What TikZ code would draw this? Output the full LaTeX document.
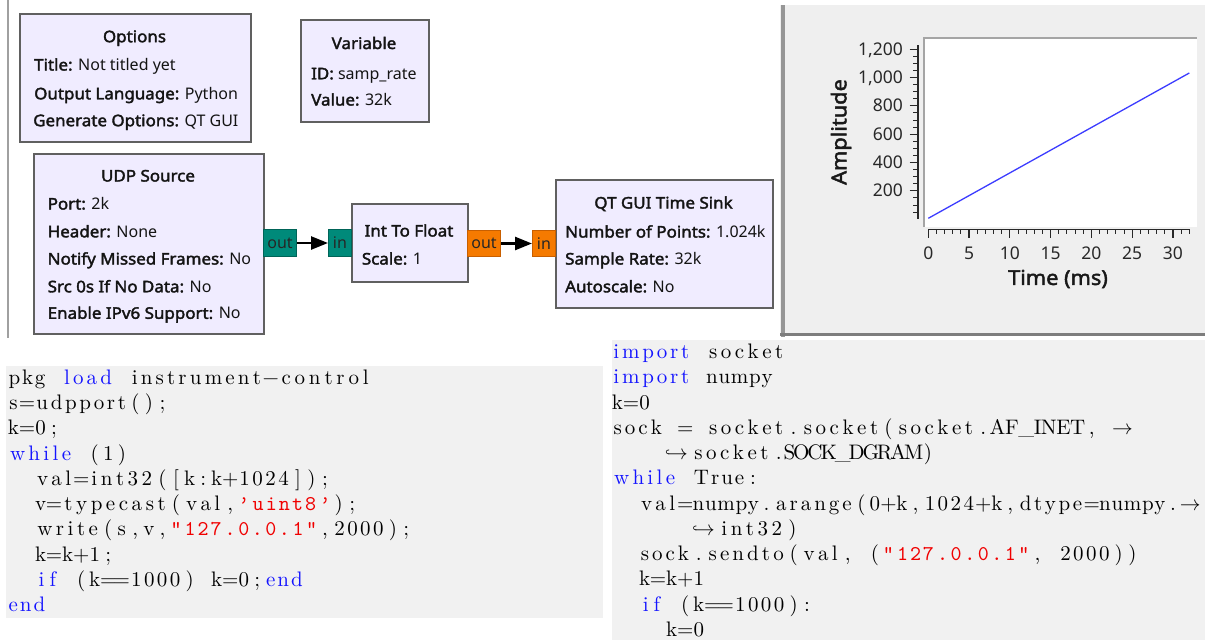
\documentclass[tikz,border=0pt]{standalone}
\usepackage{fontspec}
\usetikzlibrary{arrows.meta}
\newfontfamily\grcfont{Noto Sans}[BoldFont={Noto Sans}, BoldFeatures={FakeBold=2.2, FakeStretch=1.06}]
\newfontfamily\codefont{lmroman10-regular.otf}
\newfontfamily\codett{lmmono10-regular.otf}
\definecolor{blockfill}{RGB}{240,236,255}
\definecolor{blockdraw}{RGB}{96,96,96}
\definecolor{portteal}{RGB}{0,138,122}
\definecolor{porttealdk}{RGB}{0,100,88}
\definecolor{portorange}{RGB}{245,122,0}
\definecolor{portorangedk}{RGB}{200,95,0}
\definecolor{codebg}{RGB}{241,241,241}
\definecolor{kwblue}{RGB}{20,20,255}
\definecolor{strred}{RGB}{240,0,0}
\definecolor{panelbg}{RGB}{239,239,239}
\definecolor{plotblue}{RGB}{60,60,255}
\definecolor{axisgray}{RGB}{40,40,40}
\definecolor{canvasline}{RGB}{160,160,160}

\ExplSyntaxOn
\dim_new:N \l_cw_dim
\dim_set:Nn \l_cw_dim {13.55pt}
\tl_new:N \l_cw_tok_tl
\int_new:N \l_cw_n_int
\str_const:Nn \c_cw_letters_str {abcdefghijklmnopqrstuvwxyzABCDEFGHIJKLMNOPQRSTUVWXYZ0123456789_}
\cs_new_protected:Npn \cw_flush:
  {
    \int_compare:nNnT { \l_cw_n_int } > { 0 }
      {
        \hbox_to_wd:nn { \int_use:N \l_cw_n_int \l_cw_dim } { \hss \l_cw_tok_tl }
        \tl_clear:N \l_cw_tok_tl
        \int_zero:N \l_cw_n_int
      }
  }
\cs_new_protected:Npn \cw_line:n #1
  {
    \tl_clear:N \l_cw_tok_tl
    \int_zero:N \l_cw_n_int
    \str_map_inline:nn { #1 }
      {
        \str_if_in:NnTF \c_cw_letters_str { ##1 }
          {
            \tl_put_right:Nn \l_cw_tok_tl { ##1 \hss }
            \int_incr:N \l_cw_n_int
          }
          {
            \cw_flush:
            \hbox_to_wd:nn { \l_cw_dim } { \hss ##1 \hss }
          }
      }
    \cw_flush:
  }
\NewDocumentCommand \cP { m } { \cw_line:n { #1 } }
\NewDocumentCommand \cK { m } { \textcolor{kwblue}{ \cw_line:n { #1 } } }
\NewDocumentCommand \cS { m } { \textcolor{strred}{ \codett \cw_line:n { #1 } } }
\NewDocumentCommand \cI { m } { \hbox_to_wd:nn { #1 \l_cw_dim } { } }
\ExplSyntaxOff

\begin{document}
\begin{tikzpicture}[x=1pt,y=-1pt,
  block/.style={draw=blockdraw, line width=2pt, fill=blockfill, anchor=north west, inner sep=0pt},
  grctxt/.style={anchor=base west, inner sep=0pt, text=black!92, font=\grcfont\fontsize{16}{19}\selectfont},
  grcttl/.style={anchor=base, inner sep=0pt, text=black!92, font=\grcfont\bfseries\fontsize{16}{19}\selectfont},
  tealport/.style={draw=porttealdk, fill=portteal, line width=1pt, anchor=north west, inner sep=0pt, minimum height=27pt, text=black!85, font=\grcfont\fontsize{16}{19}\selectfont},
  orangeport/.style={draw=portorangedk, fill=portorange, line width=1pt, anchor=north west, inner sep=0pt, minimum height=26pt, text=black!85, font=\grcfont\fontsize{16}{19}\selectfont},
  conn/.style={line width=2.5pt, -{Triangle[length=17pt,width=13pt]}},
  ticklab/.style={inner sep=0pt, text=axisgray, font=\grcfont\fontsize{17.5}{20}\selectfont},
  axttl/.style={inner sep=0pt, text=black!90, font=\grcfont\bfseries\fontsize{20.5}{24}\selectfont},
  codeline/.style={anchor=base west, inner sep=0pt, font=\codefont\fontsize{21}{25}\selectfont}
]
\useasboundingbox (0,0) rectangle (1205,640);

% ---------------- GRC canvas ----------------
\draw[canvasline, line width=1.5pt] (8,0) -- (8,338);

\node[block, minimum width=231pt, minimum height=128pt] (options) at (19,13) {};
\node[grcttl] (optT) at (134.5,42.2) {Options};
\node[grctxt] (opt1) at (34,70.5) {\textbf{Title:} Not titled yet};
\node[grctxt] (opt2) at (34,99.3) {\textbf{Output Language:} Python};
\node[grctxt] (opt3) at (33,126.2) {\textbf{Generate Options:} QT GUI};

\node[block, minimum width=128pt, minimum height=102pt] (variable) at (300,19) {};
\node[grcttl] (varT) at (364,49) {Variable};
\node[grctxt] (var1) at (311,79.3) {\textbf{ID:} samp\_rate};
\node[grctxt] (var2) at (311,105.5) {\textbf{Value:} 32k};

\node[block, minimum width=230pt, minimum height=180pt] (udp) at (33,153) {};
\node[grcttl] (udpT) at (148,181.5) {UDP Source};
\node[grctxt] (udp1) at (47.5,209.5) {\textbf{Port:} 2k};
\node[grctxt] (udp2) at (47.5,237.3) {\textbf{Header:} None};
\node[grctxt] (udp3) at (47.5,264.5) {\textbf{Notify Missed Frames:} No};
\node[grctxt] (udp4) at (47.5,292.3) {\textbf{Src 0s If No Data:} No};
\node[grctxt] (udp5) at (47.5,318.8) {\textbf{Enable IPv6 Support:} No};

\node[block, minimum width=116pt, minimum height=78pt] (itf) at (351,203) {};
\node[grcttl] (itfT) at (409,236.5) {Int To Float};
\node[grctxt] (itf1) at (361.7,264.5) {\textbf{Scale:} 1};

\node[block, minimum width=217pt, minimum height=128pt] (sink) at (555,179) {};
\node[grcttl] (sinkT) at (663.5,208.5) {QT GUI Time Sink};
\node[grctxt] (sink1) at (565,237.5) {\textbf{Number of Points:} 1.024k};
\node[grctxt] (sink2) at (565,264.5) {\textbf{Sample Rate:} 32k};
\node[grctxt] (sink3) at (565,292.3) {\textbf{Autoscale:} No};

\node[tealport, minimum width=33pt] (udpout) at (263,229) {out};
\node[tealport, minimum width=23pt] (itfin) at (328,229) {in};
\node[orangeport, minimum width=33pt] (itfout) at (467,230) {out};
\node[orangeport, minimum width=23pt] (sinkin) at (532,230) {in};

\draw[conn] (udpout.east) -- (itfin.west);
\draw[conn] (itfout.east) -- (sinkin.west);

% ---------------- Time sink plot ----------------
\fill[panelbg] (780,5) rectangle (1205,336);
\draw[line width=4pt, draw={rgb,255:red,150;green,150;blue,150}] (782.5,5) -- (782.5,337);
\draw[line width=3pt, draw={rgb,255:red,125;green,125;blue,125}] (780,334.5) -- (1205,334.5);
\fill[white] (923,37) rectangle (1197,227);
\draw[line width=2pt, draw={rgb,255:red,165;green,165;blue,165}] (923.5,227) -- (923.5,37.5) -- (1197,37.5);

% y axis
\draw[axisgray, line width=1.3pt] (918,45) -- (918,219.2);
\foreach \v in {50,100,...,1200} {
  \draw[axisgray, line width=1pt] (913,{219.2-0.141667*\v}) -- (918,{219.2-0.141667*\v});
}
\foreach \v/\l in {200/200,400/400,600/600,800/800,1000/{1,000},1200/{1,200}} {
  \draw[axisgray, line width=1.2pt] (909.5,{219.2-0.141667*\v}) -- (918,{219.2-0.141667*\v});
  \node[ticklab, anchor=base east] (ylab\v) at (903,{219.2-0.141667*\v+6}) {\l};
}
\node[axttl, rotate=90] (ytitle) at (841,132) {Amplitude};

% x axis
\draw[axisgray, line width=1.3pt] (928.3,229.3) -- (1189,229.3);
\foreach \t in {0,1,...,32} {
  \draw[axisgray, line width=1pt] ({928.3+8.155*\t},229.3) -- ({928.3+8.155*\t},234);
}
\foreach \t in {0,5,...,30} {
  \draw[axisgray, line width=1.2pt] ({928.3+8.155*\t},229.3) -- ({928.3+8.155*\t},238.3);
  \node[ticklab, anchor=base] (xlab\t) at ({928.3+8.155*\t},259) {\t};
}
\node[axttl] (xtitle) at (1058,279) {Time (ms)};

\draw[plotblue, line width=1.3pt] (928.3,218.3) -- (1189.3,73);

% ---------------- Octave listing ----------------
\fill[codebg] (6,366) rectangle (603,618);
\node[codeline] (oc1) at (6.5,384.3) {\cP{pkg }\cK{load}\cP{ instrument−control}};
\node[codeline] (oc2) at (6.5,409.6) {\cP{s=udpport();}};
\node[codeline] (oc3) at (6.5,434.8) {\cP{k=0;}};
\node[codeline] (oc4) at (6.5,460.1) {\cK{while}\cP{ (1)}};
\node[codeline] (oc5) at (6.5,485.4) {\cI{2}\cP{val=int32([k:k+1024]);}};
\node[codeline] (oc6) at (6.5,510.7) {\cI{2}\cP{v=typecast(val,}\cS{’uint8’}\cP{);}};
\node[codeline] (oc7) at (6.5,535.9) {\cI{2}\cP{write(s,v,}\cS{"127.0.0.1"}\cP{,2000);}};
\node[codeline] (oc8) at (6.5,561.2) {\cI{2}\cP{k=k+1;}};
\node[codeline] (oc9) at (6.5,586.5) {\cI{2}\cK{if}\cP{ (k==1000) k=0;}\cK{end}};
\node[codeline] (oc10) at (6.5,611.7) {\cK{end}};

% ---------------- Python listing ----------------
\fill[codebg] (612,340) rectangle (1205,640);
\node[codeline] (py1) at (610.5,358.7) {\cK{import}\cP{ socket}};
\node[codeline] (py2) at (610.5,383.9) {\cK{import}\cP{ numpy}};
\node[codeline] (py3) at (610.5,409.2) {\cP{k=0}};
\node[codeline] (py4) at (610.5,434.4) {\cP{sock = socket.socket(socket.AF_INET, }$\rightarrow$};
\node[codeline] (py5) at (610.5,459.7) {\cI{4}$\hookrightarrow$\kern3pt\cP{socket.SOCK_DGRAM)}};
\node[codeline] (py6) at (610.5,484.9) {\cK{while}\cP{ True:}};
\node[codeline] (py7) at (610.5,510.1) {\cI{2}\cP{val=numpy.arange(0+k,1024+k,dtype=numpy.}$\rightarrow$};
\node[codeline] (py8) at (610.5,535.4) {\cI{6}$\hookrightarrow$\kern3pt\cP{int32)}};
\node[codeline] (py9) at (610.5,560.6) {\cI{2}\cP{sock.sendto(val, (}\cS{"127.0.0.1"}\cP{, 2000))}};
\node[codeline] (py10) at (610.5,585.9) {\cI{2}\cP{k=k+1}};
\node[codeline] (py11) at (610.5,611.1) {\cI{2}\cK{if}\cP{ (k==1000):}};
\node[codeline] (py12) at (610.5,636.3) {\cI{4}\cP{k=0}};
\end{tikzpicture}
\end{document}
